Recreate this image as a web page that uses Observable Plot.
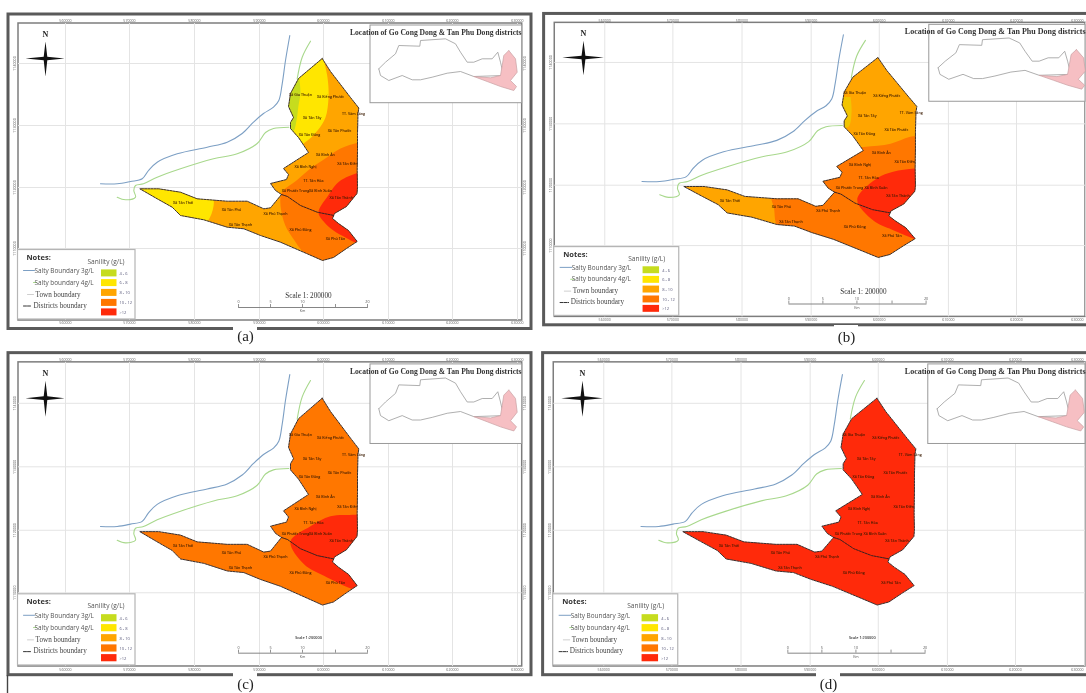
<!DOCTYPE html>
<html><head><meta charset="utf-8">
<script src="https://cdn.jsdelivr.net/npm/d3@7"></script>
<script src="https://cdn.jsdelivr.net/npm/@observablehq/plot@0.6"></script>
<style>html,body{margin:0;padding:0;background:#fff;overflow:hidden}svg{display:block}</style>
</head><body><div id="chart"></div>
<script>
// ---------- map data, in one shared map coordinate system ----------
const outline = [[321.7,58],[330,71],[340,84],[350,97],[358.3,107.5],[357.5,113],[357,133],[357,150],[356.7,170],[357,187],[356.5,193],[346,206],[334,213],[332,218],[338,223],[348,230],[356.7,241],[346,248],[333,257],[322,260],[306.7,253.3],[280,241.7],[260,235],[243.3,228.3],[226.7,226.7],[203.3,219.3],[180,215],[171.7,206.7],[156.7,198.3],[139.3,188.3],[158.3,188.3],[180,191.7],[196.7,198.3],[226.7,200.7],[246.7,200.7],[263.3,208.3],[270,207.3],[281,194],[275,190],[270,183],[286,179],[288,174],[283,168],[308,152],[298,137],[290,128],[290,122],[293,117],[288,106],[290,93],[298,78]];
const districtDivide = [[281,194],[287,196],[300,205],[316.7,211.7],[333.5,215]];
const blueLine = [[289.3,35],[285,60],[281.7,83.3],[278.3,100],[273,106.7],[263,113],[253,121.7],[241.7,133],[226.7,141.7],[206.7,146.7],[176.7,153.3],[156.7,161.7],[148,170],[141.7,178.3],[130,181],[116.7,183.3],[100,183.3]];
const greenNorth = [[310,40.7],[301.7,56.7],[296.7,78.3]];
const greenWest = [[288.3,126.7],[273,128],[265,132],[256.7,143],[236.7,153.3],[213,158.3],[180,168.3],[156.7,176.7],[143,183.3],[135,185],[133.3,190],[135,196.7],[125,199.3],[116.7,196.7]];

const zoneA_dark = [[370,140],[358,142],[340,148],[326.7,156.7],[310,168],[296,180],[281,193],[283,220],[291.7,236.7],[311,258],[370,270]];
const zoneA_red = [[370,168],[340,180],[327,196],[318,212],[324,222],[333,230],[345,237],[358,243],[372,243]];
const zoneA_yellowN = [[321,50],[327,77],[328,97],[325,117],[317,130],[303,143],[280,152],[270,60]];
const zoneA_yellowSW = [[125,175],[212,195],[200,228],[125,205]];
const zoneA_green = [[298,72],[300,92],[298,105],[296,120],[292,132],[278,132],[278,72]];
const zoneB_dark = [[370,136],[352,138],[333.6,145],[308.5,148.3],[270,152],[262,195],[222,196],[224,210],[229,232],[300,270],[370,270]];
const zoneB_red = [[370,169],[356,170],[336,173.3],[321,180],[302.3,201.7],[317.7,223],[335,232],[358,242],[372,246]];
const zoneB_yellow = [[296,98],[297,112],[294,128],[285,128],[285,98]];
const zoneC_red = [[370,171],[355,171.7],[330,173.3],[310,183],[290,198],[303.3,220],[326.7,233],[358,246],[372,246]];

const insetWhite = [[378.3,68.3],[385,61.7],[395,53.3],[398.3,45],[419.3,45.7],[420,40],[445,38.3],[455,43.3],[460,51.7],[466.7,61.7],[473.3,61.7],[481.7,58.3],[491.7,58.3],[497.3,51.7],[500,61.7],[503,75],[473.3,76],[460,71],[446.7,72.7],[431.7,76.7],[420,79.3],[411.7,79.3],[401.7,75],[388.3,80],[380,75]];
const insetPink = [[508.3,50],[515,58.3],[516.7,71.7],[510,80],[516,86],[513.3,90],[500,86],[486.7,81],[473.3,76],[490,77.3],[500,75],[501.7,65],[503.3,55]];

const starPoints = [[45,41],[46.8,56.2],[64,58],[46.8,59.8],[45,76],[43.2,59.8],[25,58],[43.2,56.2]];
const gridXs = [65,129,194,259,323,388,452,517];
const gridYs = [63,125,187,248];
const tickLabelsX = ["560000","570000","580000","590000","600000","610000","620000","630000"];
const tickLabelsY = ["1140000","1130000","1120000","1110000"];

const placeNames = ["Xã Gia Thuận","Xã Kiểng Phước","TT. Vàm Láng","Xã Tân Tây","Xã Tân Đông","Xã Tân Phước","Xã Bình Ân","Xã Tân Điền","Xã Bình Nghị","TT. Tân Hòa","Xã Phước Trung","Xã Bình Xuân","Xã Tân Thành","Xã Phú Tân","Xã Phú Đông","Xã Phú Thạnh","Xã Tân Thạnh","Xã Tân Phú","Xã Tân Thới"];
const placeXs = [300,330,353,311.7,309,339,325,347,305,313,295,320,340.7,335,300,275,240,231,182.7];
const placeYs = [94,96.7,113.7,117,134.7,130.7,154,163.7,166,180,190,190,197.7,238,229,213,224,209,202.3];

const salinityClasses = ["4 - 6","6 - 8","8 - 10","10 - 12",">12"];
const salinityColors = ["#C6DC1E","#FFE600","#FFA500","#FF7700","#FF2A0A"];
const legendRows = [273,282.7,292.5,302.5,312];
const legendLines = ["Salty Boundary 3g/L","Salty boundary 4g/L","Town boundary","Districts boundary"];
const scaleKm = ["0","5","10","20"];
const scaleKmXs = [238,270,302,367];
const scaleTicks = [238,270,302,335,367];

const [c46,c68,c810,c1012,c12] = salinityColors;
const panels = [
 {id:"a",ox:139,oy:58,sx:1,sy:1,big:true,base:c810,zones:[[zoneA_dark,c1012],[zoneA_red,c12],[zoneA_yellowN,c68],[zoneA_yellowSW,c68],[zoneA_green,c46]]},
 {id:"b",ox:683,oy:57,sx:1.064,sy:.99,big:true,base:c810,zones:[[zoneB_dark,c1012],[zoneB_red,c12],[zoneB_yellow,"#F2C400"]]},
 {id:"c",ox:139,oy:397.7,sx:1,sy:1.024,big:false,base:c1012,zones:[[zoneC_red,c12]]},
 {id:"d",ox:682,oy:397.7,sx:1.064,sy:1.024,big:false,base:c12,zones:[]}
];
const captions = [{t:"(a)",x:245,y:336},{t:"(b)",x:846,y:337},{t:"(c)",x:245,y:684},{t:"(d)",x:828,y:684}];

// ---------- drawing ----------
const SERIF = "Liberation Serif", SANS = "Open Sans";
const marks = [];
for (const p of panels) {
  const X = x => p.ox + p.sx*(x-139), Y = y => p.oy + p.sy*(y-58);
  const P = pts => pts.map(([x,y]) => ({x:X(x),y:Y(y)}));
  const XC = x => Math.min(X(x),1085);
  const T = (s,x,y,o) => marks.push(Plot.text([s],{x:()=>X(x),y:()=>Y(y),text:d=>d,...o}));
  // frames
  marks.push(Plot.rect([0],{x1:()=>XC(8),x2:()=>p.sx>1?1100:X(531),y1:()=>Y(14),y2:()=>Y(328.5),fill:"#fff",stroke:"#5a5a5a",strokeWidth:3}));
  marks.push(Plot.rect([0],{x1:()=>XC(18),x2:()=>XC(521.7),y1:()=>Y(23),y2:()=>Y(320),fill:"#fff",stroke:"#7d7d7d",strokeWidth:1.5}));
  // graticule
  marks.push(Plot.ruleX(gridXs,{x:d=>X(d),y1:()=>Y(23),y2:()=>Y(320),stroke:"#e4e4e4",strokeWidth:1}));
  marks.push(Plot.ruleY(gridYs,{y:d=>Y(d),x1:()=>XC(18),x2:()=>XC(521.7),stroke:"#e4e4e4",strokeWidth:1}));
  for (const yy of [20.5,322.8])
    marks.push(Plot.text(gridXs,{x:d=>Math.min(X(d),1077),y:()=>Y(yy),text:(d,i)=>tickLabelsX[i],fontSize:3.6,fill:"#666",fontFamily:SANS}));
  for (const xx of (p.sx>1?[14.5]:[14.5,524]))
    marks.push(Plot.text(gridYs,{x:()=>X(xx),y:d=>Y(d),text:(d,i)=>tickLabelsY[i],rotate:-90,fontSize:3.6,fill:"#666",fontFamily:SANS}));
  // salty boundaries
  marks.push(Plot.line(P(blueLine),{x:"x",y:"y",stroke:"#7C9FC4",strokeWidth:1.1,curve:"catmull-rom"}));
  marks.push(Plot.line(P(greenNorth),{x:"x",y:"y",stroke:"#A8D88C",strokeWidth:1.1,curve:"catmull-rom"}));
  marks.push(Plot.line(P(greenWest),{x:"x",y:"y",stroke:"#A8D88C",strokeWidth:1.1,curve:"catmull-rom"}));
  // salinity surface, clipped to the district outline
  const clipId = "clip-"+p.id;
  const clip = (index,scales,values,dims,ctx,next) => {
    const g = next(index,scales,values,dims,ctx);
    const cp = document.createElementNS("http://www.w3.org/2000/svg","clipPath");
    cp.setAttribute("id",clipId);
    const path = document.createElementNS("http://www.w3.org/2000/svg","path");
    path.setAttribute("d",d3.line(d=>scales.x(d.x),d=>scales.y(d.y))(P(outline))+"Z");
    cp.appendChild(path); g.appendChild(cp);
    return g;
  };
  const clipped = (index,scales,values,dims,ctx,next) => {
    const g = next(index,scales,values,dims,ctx);
    g.setAttribute("clip-path",`url(#${clipId})`);
    return g;
  };
  marks.push(Plot.line(P(outline),{x:"x",y:"y",fill:p.base,stroke:"none",render:clip}));
  for (const [z,col] of p.zones)
    marks.push(Plot.line(P(z),{x:"x",y:"y",fill:col,stroke:"none",curve:"catmull-rom",render:clipped}));
  // district boundaries
  marks.push(Plot.line(P([...outline,outline[0]]),{x:"x",y:"y",stroke:"#3a3030",strokeWidth:1,strokeDasharray:"2.2,1"}));
  marks.push(Plot.line(P(districtDivide),{x:"x",y:"y",stroke:"#3a2020",strokeWidth:1,strokeDasharray:"2.2,1"}));
  marks.push(Plot.text(placeNames,{x:(d,i)=>X(placeXs[i]),y:(d,i)=>Y(placeYs[i]),text:d=>d,fontSize:3.6,fontWeight:600,fill:"#3a1a00",fontFamily:SANS}));
  // north arrow
  marks.push(Plot.line(P(starPoints),{x:"x",y:"y",fill:"#111",stroke:"none"}));
  T("N",45,34,{fontSize:8,fontWeight:700,fontFamily:SERIF,fill:"#222"});
  // locator inset
  marks.push(Plot.rect([0],{x1:()=>X(370),x2:()=>XC(521.7),y1:()=>Y(25),y2:()=>Y(102.7),fill:"#fff",stroke:"#999",strokeWidth:1}));
  marks.push(Plot.line(P([...insetWhite,insetWhite[0]]),{x:"x",y:"y",fill:"#fff",stroke:"#9a9a9a",strokeWidth:.8}));
  marks.push(Plot.line(P([...insetPink,insetPink[0]]),{x:"x",y:"y",fill:"#F6BFC3",stroke:"#c9a0a3",strokeWidth:.7}));
  marks.push(Plot.text(["Location of Go Cong Dong & Tan Phu Dong districts"],{x:()=>Math.min(X(521),1085),y:()=>Y(32),text:d=>d,textAnchor:"end",fontSize:p.sx>1?8:7.6,fontWeight:600,fontFamily:SERIF,fill:"#333"}));
  // legend
  marks.push(Plot.rect([0],{x1:()=>X(17.5),x2:()=>X(135),y1:()=>Y(249.5),y2:()=>Y(319),fill:"#fff",stroke:"#b5b5b5",strokeWidth:1.2}));
  T("Notes:",26,257,{textAnchor:"start",fontSize:7.5,fontWeight:700,fontFamily:SANS,fill:"#333"});
  T("Sanility (g/L)",87,261,{textAnchor:"start",fontSize:6.6,fontFamily:SANS,fill:"#555"});
  marks.push(Plot.line(P([[23,270],[34,270]]),{x:"x",y:"y",stroke:"#7C9FC4",strokeWidth:1}));
  marks.push(Plot.line(P([[33,282],[36,282]]),{x:"x",y:"y",stroke:"#A8D88C",strokeWidth:1}));
  marks.push(Plot.line(P([[27,294],[33,294]]),{x:"x",y:"y",stroke:"#cfcfcf",strokeWidth:1}));
  marks.push(Plot.line(P([[23,305.5],[31,305.5]]),{x:"x",y:"y",stroke:"#333",strokeWidth:1,strokeDasharray:"3,1"}));
  T(legendLines[0],34,270.5,{textAnchor:"start",fontSize:6.4,fontFamily:SANS,fill:"#555"});
  T(legendLines[1],34,282,{textAnchor:"start",fontSize:6.4,fontFamily:SANS,fill:"#555"});
  T(legendLines[2],35,294,{textAnchor:"start",fontSize:7.2,fontFamily:SERIF,fill:"#444"});
  T(legendLines[3],33,305,{textAnchor:"start",fontSize:7.2,fontFamily:SERIF,fill:"#444"});
  marks.push(Plot.rect(salinityColors,{x1:()=>X(101),x2:()=>X(116.5),y1:(d,i)=>Y(legendRows[i]-3.6),y2:(d,i)=>Y(legendRows[i]+3.4),fill:d=>d}));
  marks.push(Plot.text(salinityClasses,{x:()=>X(119),y:(d,i)=>Y(legendRows[i]),text:d=>d,textAnchor:"start",fontSize:4,fill:"#557",fontFamily:SANS}));
  // scale bar
  if (p.big) T("Scale 1: 200000",308,295,{fontSize:7.2,fontFamily:SERIF,fill:"#333"});
  else T("Scale 1:200000",308,292,{fontSize:3.8,fontWeight:600,fontFamily:SANS,fill:"#333"});
  marks.push(Plot.line(P([[238,307],[367,307]]),{x:"x",y:"y",stroke:"#777",strokeWidth:.9}));
  marks.push(Plot.ruleX(scaleTicks,{x:d=>X(d),y1:()=>Y(304),y2:()=>Y(307),stroke:"#777",strokeWidth:.8}));
  marks.push(Plot.text(scaleKm,{x:(d,i)=>X(scaleKmXs[i]),y:()=>Y(301.5),text:d=>d,fontSize:3.8,fill:"#555",fontFamily:SANS}));
  T("Km",302,310.5,{fontSize:3.6,fill:"#555",fontFamily:SANS});
}
// stray edge line and captions sitting over the frames
marks.push(Plot.ruleX([7],{y1:675,y2:693,stroke:"#444",strokeWidth:1.4}));
marks.push(Plot.rect(captions,{x1:d=>d.x-12,x2:d=>d.x+12,y1:d=>d.y-12,y2:d=>d.y+9,fill:"#fff"}));
marks.push(Plot.text(captions,{x:"x",y:"y",text:"t",fontSize:15,fontFamily:SERIF,fill:"#222"}));

const svg = Plot.plot({
  width:1086,height:693,margin:0,
  x:{domain:[0,1086],range:[0,1086],axis:null},
  y:{domain:[0,693],range:[0,693],axis:null},
  style:{background:"#fff",filter:"blur(0.5px)"},
  marks
});
document.getElementById("chart").appendChild(svg);
</script></body></html>
